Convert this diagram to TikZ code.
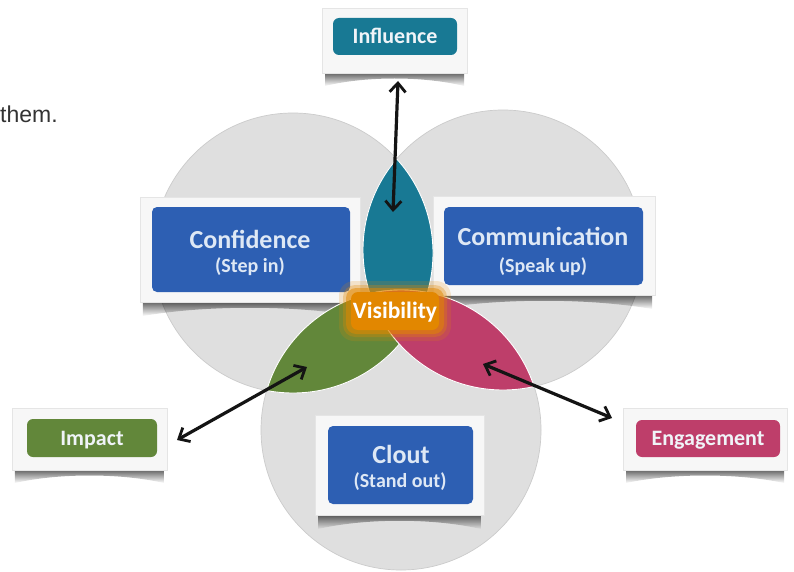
\documentclass[tikz,border=0pt]{standalone}
\usepackage{fontspec}
\setmainfont{Carlito}
\newfontfamily\thinsans{Liberation Sans}
\usetikzlibrary{arrows.meta,fadings}
\definecolor{cgray}{RGB}{223,223,223}
\definecolor{cedge}{RGB}{203,203,203}
\definecolor{boxblue}{RGB}{45,95,179}
\definecolor{tealc}{RGB}{24,121,148}
\definecolor{greenc}{RGB}{98,135,58}
\definecolor{magc}{RGB}{190,62,106}
\definecolor{orangec}{RGB}{226,135,0}
\definecolor{lighttext}{RGB}{222,232,245}
\definecolor{tagtext}{RGB}{240,244,248}
\newcommand{\curlshadow}[4]{%
  \fill[black, opacity=0.6, path fading=south]
    (#1+3,#3) -- (#1+3,#3+#4)
    .. controls ({#1+0.3*(#2-#1)},#3+3) and ({#2-0.3*(#2-#1)},#3+3) .. (#2-3,#3+#4)
    -- (#2-3,#3) -- cycle;}
\begin{document}
\begin{tikzpicture}[x=1pt,y=-1pt,
  bigcircle/.style={fill=cgray, draw=cedge, line width=0.7pt},
  framebox/.style={rectangle, fill=white!97!black, draw=black!10, line width=0.4pt, inner sep=0pt},
  bluebox/.style={rectangle, rounded corners=5pt, fill=boxblue, inner sep=0pt},
  tagbox/.style={rectangle, rounded corners=6pt, inner sep=0pt, text=tagtext,
    font=\fontsize{22}{24}\selectfont\bfseries, text height=14pt, text depth=0pt},
  bigtxt/.style={text=lighttext, font=\fontsize{26}{28}\selectfont\bfseries, inner sep=0pt},
  smalltxt/.style={text=lighttext, font=\fontsize{20}{22}\selectfont\bfseries, inner sep=0pt},
  lensedge/.style={draw=white, line width=0.9pt},
  sketch/.style={line width=3.2pt, draw=black!92, line cap=round,
    arrows={Straight Barb[length=9pt,width=16pt,line width=2.8pt]-Straight Barb[length=9pt,width=16pt,line width=2.8pt]}}
]
\useasboundingbox (0,0) rectangle (794,572);
\fill[white] (0,0) rectangle (794,572);

% text fragment at top left
\node[anchor=base west, inner sep=0pt, font=\thinsans\fontsize{23}{23}\selectfont, text=black!80] (them) at (0,123) {them.};

% three circles
\draw[bigcircle] (401,430) circle[radius=140pt];
\draw[bigcircle] (293,253) circle[radius=140pt];
\draw[bigcircle] (503,250) circle[radius=140pt];

% shadows under frames
\curlshadow{140}{360}{302}{14}
\curlshadow{433}{655}{295}{14}
\curlshadow{315}{484}{515}{14}
\curlshadow{322}{467}{73}{13}
\curlshadow{12}{167}{470}{13}
\curlshadow{623}{787}{470}{13}

% main frames and boxes
\node[framebox, minimum width=220pt, minimum height=105pt] (confF) at (250,249.5) {};
\node[bluebox, minimum width=198pt, minimum height=85pt] (conf) at (251,249.5) {};
\node[bigtxt] (confT) at (250,239) {Confidence};
\node[smalltxt] (confS) at (250,267) {(Step in)};

\node[framebox, minimum width=222pt, minimum height=99pt] (commF) at (544,245.5) {};
\node[bluebox, minimum width=199pt, minimum height=78pt] (comm) at (543.5,246) {};
\node[bigtxt] (commT) at (543,236) {Communication};
\node[smalltxt] (commS) at (543,267) {(Speak up)};

\node[framebox, minimum width=169pt, minimum height=100pt] (cloutF) at (399.5,465) {};
\node[bluebox, minimum width=145pt, minimum height=78pt] (clout) at (400.5,465) {};
\node[bigtxt] (cloutT) at (401,454) {Clout};
\node[smalltxt] (cloutS) at (400,482) {(Stand out)};

% outer tags
\node[framebox, minimum width=145pt, minimum height=65pt] (inflF) at (394.5,40.5) {};
\node[tagbox, fill=tealc, minimum width=124pt, minimum height=37pt] (infl) at (395,36.5) {Influence};

\node[framebox, minimum width=155pt, minimum height=62pt] (impF) at (89.5,439) {};
\node[tagbox, fill=greenc, minimum width=130pt, minimum height=38pt] (imp) at (92,438) {Impact};

\node[framebox, minimum width=164pt, minimum height=62pt] (engF) at (705,439) {};
\node[tagbox, fill=magc, minimum width=144pt, minimum height=37pt] (eng) at (708,438.5) {Engagement};

% lenses: teal (left & right), green (left & bottom), magenta (right & bottom)
\begin{scope}
  \clip (293,253) circle[radius=140pt];
  \fill[tealc] (503,250) circle[radius=140pt];
  \draw[lensedge] (503,250) circle[radius=140pt];
\end{scope}
\begin{scope}
  \clip (503,250) circle[radius=140pt];
  \draw[lensedge] (293,253) circle[radius=140pt];
\end{scope}

\begin{scope}
  \clip (293,253) circle[radius=140pt];
  \fill[greenc] (401,430) circle[radius=140pt];
  \draw[lensedge] (401,430) circle[radius=140pt];
\end{scope}
\begin{scope}
  \clip (401,430) circle[radius=140pt];
  \draw[lensedge] (293,253) circle[radius=140pt];
\end{scope}

\begin{scope}
  \clip (503,250) circle[radius=140pt];
  \fill[magc] (401,430) circle[radius=140pt];
  \draw[lensedge] (401,430) circle[radius=140pt];
\end{scope}
\begin{scope}
  \clip (401,430) circle[radius=140pt];
  \draw[lensedge] (503,250) circle[radius=140pt];
\end{scope}

% Visibility glow
\fill[orangec, opacity=0.18, rounded corners=15pt] (339,281) rectangle (451,341);
\fill[orangec, opacity=0.3, rounded corners=12pt] (343,285) rectangle (447,337);
\fill[orangec, opacity=0.5, rounded corners=10pt] (346,288) rectangle (444,334);
\node[rectangle, rounded corners=7pt, fill=orangec, minimum width=88pt, minimum height=38pt,
  inner sep=0pt, text=white, font=\fontsize{23.5}{25}\selectfont\bfseries,
  text height=15pt, text depth=0pt] (vis) at (395,311) {Visibility};

% arrows
\coordinate (inTop) at (398,81);
\coordinate (inBot) at (393,212);
\coordinate (imA) at (177,440);
\coordinate (imB) at (307,367);
\coordinate (enA) at (483,364);
\coordinate (enB) at (612,418);
\draw[sketch] (inTop) -- (inBot);
\draw[sketch] (imA) -- (imB);
\draw[sketch] (enA) -- (enB);
\end{tikzpicture}
\end{document}
